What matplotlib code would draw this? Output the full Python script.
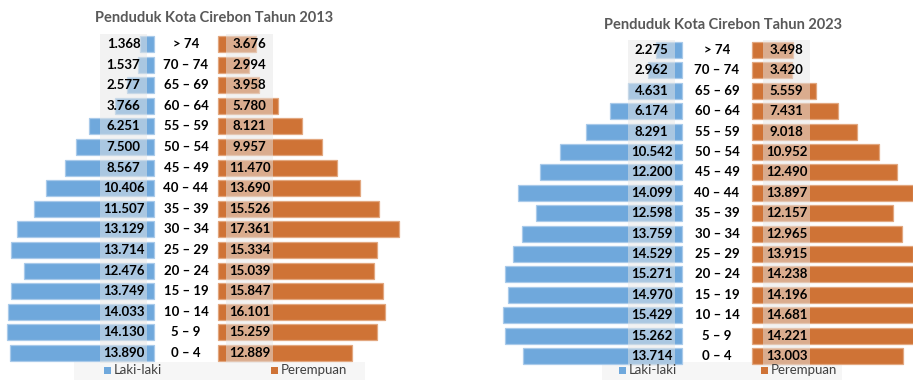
import matplotlib.pyplot as plt
from matplotlib.patches import Rectangle

# --- data (bottom row first) ---
age_groups = ["0 – 4", "5 – 9", "10 – 14", "15 – 19", "20 – 24", "25 – 29",
              "30 – 34", "35 – 39", "40 – 44", "45 – 49", "50 – 54", "55 – 59",
              "60 – 64", "65 – 69", "70 – 74", "> 74"]

male_2013 = [13890, 14130, 14033, 13749, 12476, 13714, 13129, 11507,
             10406, 8567, 7500, 6251, 3766, 2577, 1537, 1368]
female_2013 = [12889, 15259, 16101, 15847, 15039, 15334, 17361, 15526,
               13690, 11470, 9957, 8121, 5780, 3958, 2994, 3676]

male_2023 = [13714, 15262, 15429, 14970, 15271, 14529, 13759, 12598,
             14099, 12200, 10542, 8291, 6174, 4631, 2962, 2275]
female_2023 = [13003, 14221, 14681, 14196, 14238, 13915, 12965, 12157,
               13897, 12490, 10952, 9018, 7431, 5559, 3420, 3498]

BLUE = "#6fa8dc"
ORANGE = "#cf7336"
W, H = 913, 380

plt.rcParams['font.family'] = ['Lato', 'DejaVu Sans']
fig = plt.figure(figsize=(W / 100, H / 100), dpi=100)


def fx(px):
    return px / W


def fy(py):
    return 1 - py / H


def fmt(v):
    return f"{v:,}".replace(",", ".")


def draw_pyramid(male, female, title, center, scale, gap, top, bottom,
                 box_l, box_r, x0, x1, title_xy, legend):
    # axes in pixel layout, x data = persons, 0 at center
    step = (bottom - top) / (len(age_groups) - 1)
    ax = fig.add_axes([fx(x0), fy(bottom + step / 2),
                       fx(x1) - fx(x0), (bottom - top + step) / H])
    ax.set_xlim((x0 - center) / scale, (x1 - center) / scale)
    ax.set_ylim(-0.5, len(age_groups) - 0.5)
    ax.axis('off')

    g = gap / scale
    y = range(len(age_groups))
    ax.barh(y, [-m for m in male], left=-g, height=0.78, color=BLUE,
            edgecolor="#a9caea", linewidth=0.9, zorder=1)
    ax.barh(y, female, left=g, height=0.78, color=ORANGE,
            edgecolor="#e2a77f", linewidth=0.9, zorder=1)

    bw = 47 / scale
    for i, lab in enumerate(age_groups):
        for bx, val in ((box_l, male[i]), (box_r, female[i])):
            bc = (bx - center) / scale
            ax.add_patch(Rectangle((bc - bw / 2, i - 0.5), bw, 1.0,
                                   facecolor="#e6e6e6", alpha=0.5,
                                   edgecolor="none", zorder=2))
            ax.text(bc, i, fmt(val), ha='center', va='center',
                    fontsize=9.5, fontweight='bold', color='black', zorder=3)
        ax.text(0, i, lab, ha='center', va='center', fontsize=9.5,
                fontweight='bold', color='black')

    fig.text(fx(title_xy[0]), fy(title_xy[1]), title, ha='center',
             va='center', fontsize=10.5, fontweight='bold', color='#595959')

    # legend strip
    lx0, lx1, sq_m, sq_f = legend
    fig.add_artist(Rectangle((fx(lx0), 0), fx(lx1) - fx(lx0), fy(362),
                             transform=fig.transFigure, facecolor="#f6f6f6",
                             edgecolor="none", zorder=0))
    for sx, col, name in ((sq_m, BLUE, "Laki-laki"), (sq_f, ORANGE, "Perempuan")):
        fig.add_artist(Rectangle((fx(sx), fy(374)), 7 / W, 7 / H,
                                 transform=fig.transFigure, facecolor=col,
                                 edgecolor="none"))
        fig.text(fx(sx + 10), fy(370.5), name, ha='left', va='center',
                 fontsize=9.5, color='#404040')


draw_pyramid(male_2013, female_2013, "Penduduk Kota Cirebon Tahun 2013",
             center=186, scale=0.0104, gap=32, top=44, bottom=353,
             box_l=123.5, box_r=249.5, x0=0, x1=440, title_xy=(214, 18),
             legend=(74, 365, 104, 271))

draw_pyramid(male_2023, female_2023, "Penduduk Kota Cirebon Tahun 2023",
             center=717, scale=0.0116, gap=35, top=50, bottom=356,
             box_l=651.5, box_r=786.5, x0=480, x1=W, title_xy=(723, 25),
             legend=(602, 842, 619, 761))

fig.savefig("out.png", dpi=100)
